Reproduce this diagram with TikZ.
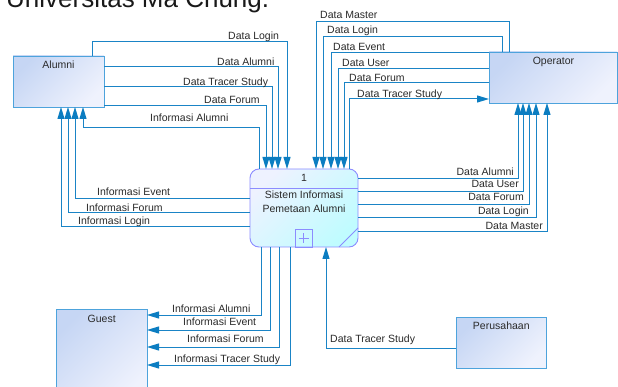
\documentclass[tikz,border=0pt]{standalone}
\usepackage{fontspec}
\setmainfont{Liberation Sans}
\usetikzlibrary{arrows.meta}

\definecolor{flowblue}{HTML}{1A84C6}
\definecolor{tipblue}{HTML}{0B7DC1}
\definecolor{entborder}{HTML}{4DA3DC}
\definecolor{entA}{HTML}{C6D6F4}
\definecolor{entB}{HTML}{EFF2FD}
\definecolor{procborder}{HTML}{8C8CFF}
\definecolor{procA}{HTML}{EEF2FF}
\definecolor{procB}{HTML}{C0FCFF}
\definecolor{inkgray}{HTML}{2A2A2A}

\begin{document}
\begin{tikzpicture}[x=1pt, y=-1pt,
  txt/.style={font=\fontsize{10.5}{12}\selectfont, text=inkgray, inner sep=0pt},
  lbl/.style={txt},
  entity/.style={draw=entborder, line width=0.9pt, top color=entA, bottom color=entB,
    shading angle=45, inner sep=0pt, outer sep=0pt},
  process/.style={draw=procborder, line width=0.9pt, rounded corners=9pt,
    top color=procA, bottom color=procB, shading angle=45, inner sep=0pt, outer sep=0pt},
  flow/.style={draw=flowblue, line width=1pt},
  arr/.style={flow, -{Triangle[length=12pt,width=7pt,color=tipblue]}}]

\clip (0,0) rectangle (618,387);
\fill[white] (0,0) rectangle (618,387);

% heading, partly cut at the top edge
\node[anchor=base west, font=\fontsize{26}{28}\selectfont, text=black!90, inner sep=0pt]
  (title) at (6,8) {Universitas Ma Chung.};

% external entities
\node[entity, minimum width=91pt, minimum height=51pt] (alumni) at (58.5,81.5) {};
\node[entity, minimum width=128pt, minimum height=51pt] (oper) at (553,77.5) {};
\node[entity, minimum width=91pt, minimum height=91pt] (guest) at (101.5,354.5) {};
\node[entity, minimum width=90pt, minimum height=51pt] (perus) at (501,342.5) {};

\node[txt, anchor=base] (alumniT) at (58.5,68.5) {Alumni};
\node[txt, anchor=base] (operT) at (553.5,65) {Operator};
\node[txt, anchor=base] (guestT) at (101.7,322) {Guest};
\node[txt, anchor=base] (perusT) at (501.3,329) {Perusahaan};

% process
\node[process, minimum width=108pt, minimum height=78pt] (proc) at (304,208) {};
\draw[procborder, line width=0.9pt] (proc.west |- 0,188) -- (proc.east |- 0,188);
\draw[procborder, line width=0.9pt] ([xshift=-19pt]proc.south east) -- ([yshift=19pt]proc.south east);
\node[draw=procborder, line width=0.9pt, minimum width=17pt, minimum height=18pt,
  inner sep=0pt, outer sep=0pt, anchor=south] (plus) at (proc.south -| 303.5,0) {};
\draw[procborder, line width=0.8pt] ([xshift=-5pt]plus.center) -- ([xshift=5pt]plus.center)
  ([yshift=-5pt]plus.center) -- ([yshift=5pt]plus.center);
\node[txt, anchor=base] (procN) at (304,181.7) {1};
\node[txt, anchor=base] (procL1) at (304,198.3) {Sistem Informasi};
\node[txt, anchor=base] (procL2) at (304,212.7) {Pemetaan Alumni};

% Alumni -> process
\draw[arr] (92,0 |- alumni.north) |- (287,42) -- (287,0 |- proc.north);
\draw[arr] (alumni.east |- 0,67) -| (278,0 |- proc.north);
\draw[arr] (alumni.east |- 0,87) -| (272,0 |- proc.north);
\draw[arr] (alumni.east |- 0,106) -| (266,0 |- proc.north);
% process -> Alumni
\draw[arr] (259,0 |- proc.north) |- (83,128) -- (83,0 |- alumni.south);
\draw[arr] (proc.west |- 0,199) -| (75,0 |- alumni.south);
\draw[arr] (proc.west |- 0,213) -| (68,0 |- alumni.south);
\draw[arr] (proc.west |- 0,227) -| (61,0 |- alumni.south);

% Operator -> process
\draw[arr] (509,0 |- oper.north) |- (316,22) -- (316,0 |- proc.north);
\draw[arr] (502,0 |- oper.north) |- (323,37) -- (323,0 |- proc.north);
\draw[arr] (oper.west |- 0,53) -| (331,0 |- proc.north);
\draw[arr] (oper.west |- 0,69) -| (338,0 |- proc.north);
\draw[arr] (oper.west |- 0,83) -| (344,0 |- proc.north);
% process -> Operator
\draw[arr] (349,0 |- proc.north) |- (oper.west |- 0,99);
\draw[arr] (proc.east |- 0,179) -| (518,0 |- oper.south);
\draw[arr] (proc.east |- 0,192) -| (523,0 |- oper.south);
\draw[arr] (proc.east |- 0,205) -| (529,0 |- oper.south);
\draw[arr] (proc.east |- 0,218) -| (536,0 |- oper.south);
\draw[arr] (proc.east |- 0,232) -| (547,0 |- oper.south);

% process -> Guest
\draw[arr] (261,0 |- proc.south) |- (guest.east |- 0,315);
\draw[arr] (270,0 |- proc.south) |- (guest.east |- 0,330);
\draw[arr] (279,0 |- proc.south) |- (guest.east |- 0,347);
\draw[arr] (290,0 |- proc.south) |- (guest.east |- 0,365);

% Perusahaan -> process
\draw[arr] (perus.west |- 0,348) -| (326,0 |- proc.south);

% flow labels, Alumni side
\node[lbl, anchor=base west] (fA1) at (228,39.5) {Data Login};
\node[lbl, anchor=base west] (fA2) at (217,65.5) {Data Alumni};
\node[lbl, anchor=base west] (fA3) at (183,85.3) {Data Tracer Study};
\node[lbl, anchor=base west] (fA4) at (204,103.5) {Data Forum};
\node[lbl, anchor=base west] (fA5) at (150,121.8) {Informasi Alumni};
\node[lbl, anchor=base west] (fA6) at (97,195.8) {Informasi Event};
\node[lbl, anchor=base west] (fA7) at (86,211.3) {Informasi Forum};
\node[lbl, anchor=base west] (fA8) at (78,224.5) {Informasi Login};

% flow labels, Operator side
\node[lbl, anchor=base west] (fO1) at (320,18.3) {Data Master};
\node[lbl, anchor=base west] (fO2) at (327,34) {Data Login};
\node[lbl, anchor=base west] (fO3) at (333,50.7) {Data Event};
\node[lbl, anchor=base west] (fO4) at (342,66.7) {Data User};
\node[lbl, anchor=base west] (fO5) at (349,81.7) {Data Forum};
\node[lbl, anchor=base west] (fO6) at (357,97.7) {Data Tracer Study};
\node[lbl, anchor=base east] (fO7) at (514,176) {Data Alumni};
\node[lbl, anchor=base east] (fO8) at (519,187.3) {Data User};
\node[lbl, anchor=base east] (fO9) at (524,200.7) {Data Forum};
\node[lbl, anchor=base east] (fO10) at (529,215) {Data Login};
\node[lbl, anchor=base east] (fO11) at (543,229.3) {Data Master};

% flow labels, Guest and Perusahaan
\node[lbl, anchor=base west] (fG1) at (172,312.3) {Informasi Alumni};
\node[lbl, anchor=base west] (fG2) at (183,325.7) {Informasi Event};
\node[lbl, anchor=base west] (fG3) at (187,342.7) {Informasi Forum};
\node[lbl, anchor=base west] (fG4) at (174,362.7) {Informasi Tracer Study};
\node[lbl, anchor=base west] (fP1) at (330,342.7) {Data Tracer Study};
\end{tikzpicture}
\end{document}
